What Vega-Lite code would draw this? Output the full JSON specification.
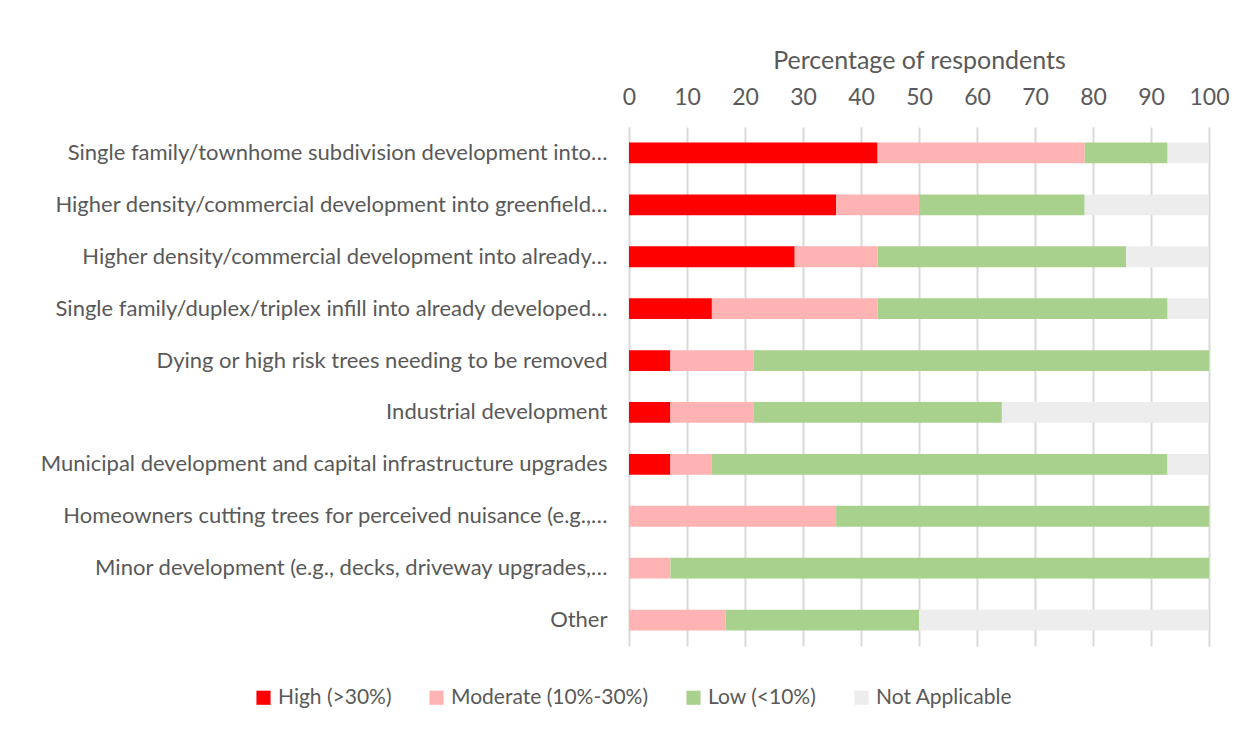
{
  "$schema": "https://vega.github.io/schema/vega-lite/v6.json",
  "autosize": {"type": "none"},
  "width": 580,
  "height": 519,
  "padding": {"left": 629, "top": 127, "right": 43, "bottom": 83},
  "background": "white",
  "config": {
    "view": {"stroke": null},
    "font": "Lato",
    "axis": {"labelColor": "#595959", "titleColor": "#595959", "labelFont": "Lato", "titleFont": "Lato"},
    "legend": {"labelColor": "#595959", "labelFont": "Lato"}
  },
  "data": {
    "values": [
      {"category": "Single family/townhome subdivision development into…", "level": "High (>30%)", "value": 42.86},
      {"category": "Single family/townhome subdivision development into…", "level": "Moderate (10%-30%)", "value": 35.71},
      {"category": "Single family/townhome subdivision development into…", "level": "Low (<10%)", "value": 14.29},
      {"category": "Single family/townhome subdivision development into…", "level": "Not Applicable", "value": 7.14},
      {"category": "Higher density/commercial development into greenfield…", "level": "High (>30%)", "value": 35.71},
      {"category": "Higher density/commercial development into greenfield…", "level": "Moderate (10%-30%)", "value": 14.29},
      {"category": "Higher density/commercial development into greenfield…", "level": "Low (<10%)", "value": 28.57},
      {"category": "Higher density/commercial development into greenfield…", "level": "Not Applicable", "value": 21.43},
      {"category": "Higher density/commercial development into already…", "level": "High (>30%)", "value": 28.57},
      {"category": "Higher density/commercial development into already…", "level": "Moderate (10%-30%)", "value": 14.29},
      {"category": "Higher density/commercial development into already…", "level": "Low (<10%)", "value": 42.86},
      {"category": "Higher density/commercial development into already…", "level": "Not Applicable", "value": 14.29},
      {"category": "Single family/duplex/triplex infill into already developed…", "level": "High (>30%)", "value": 14.29},
      {"category": "Single family/duplex/triplex infill into already developed…", "level": "Moderate (10%-30%)", "value": 28.57},
      {"category": "Single family/duplex/triplex infill into already developed…", "level": "Low (<10%)", "value": 50.0},
      {"category": "Single family/duplex/triplex infill into already developed…", "level": "Not Applicable", "value": 7.14},
      {"category": "Dying or high risk trees needing to be removed", "level": "High (>30%)", "value": 7.14},
      {"category": "Dying or high risk trees needing to be removed", "level": "Moderate (10%-30%)", "value": 14.29},
      {"category": "Dying or high risk trees needing to be removed", "level": "Low (<10%)", "value": 78.57},
      {"category": "Dying or high risk trees needing to be removed", "level": "Not Applicable", "value": 0},
      {"category": "Industrial development", "level": "High (>30%)", "value": 7.14},
      {"category": "Industrial development", "level": "Moderate (10%-30%)", "value": 14.29},
      {"category": "Industrial development", "level": "Low (<10%)", "value": 42.86},
      {"category": "Industrial development", "level": "Not Applicable", "value": 35.71},
      {"category": "Municipal development and capital infrastructure upgrades", "level": "High (>30%)", "value": 7.14},
      {"category": "Municipal development and capital infrastructure upgrades", "level": "Moderate (10%-30%)", "value": 7.14},
      {"category": "Municipal development and capital infrastructure upgrades", "level": "Low (<10%)", "value": 78.57},
      {"category": "Municipal development and capital infrastructure upgrades", "level": "Not Applicable", "value": 7.14},
      {"category": "Homeowners cutting trees for perceived nuisance (e.g.,…", "level": "High (>30%)", "value": 0},
      {"category": "Homeowners cutting trees for perceived nuisance (e.g.,…", "level": "Moderate (10%-30%)", "value": 35.71},
      {"category": "Homeowners cutting trees for perceived nuisance (e.g.,…", "level": "Low (<10%)", "value": 64.29},
      {"category": "Homeowners cutting trees for perceived nuisance (e.g.,…", "level": "Not Applicable", "value": 0},
      {"category": "Minor development (e.g., decks, driveway upgrades,…", "level": "High (>30%)", "value": 0},
      {"category": "Minor development (e.g., decks, driveway upgrades,…", "level": "Moderate (10%-30%)", "value": 7.14},
      {"category": "Minor development (e.g., decks, driveway upgrades,…", "level": "Low (<10%)", "value": 92.86},
      {"category": "Minor development (e.g., decks, driveway upgrades,…", "level": "Not Applicable", "value": 0},
      {"category": "Other", "level": "High (>30%)", "value": 0},
      {"category": "Other", "level": "Moderate (10%-30%)", "value": 16.67},
      {"category": "Other", "level": "Low (<10%)", "value": 33.33},
      {"category": "Other", "level": "Not Applicable", "value": 50.0}
    ]
  },
  "transform": [
    {"calculate": "indexof(['High (>30%)', 'Moderate (10%-30%)', 'Low (<10%)', 'Not Applicable'], datum.level)", "as": "levelOrder"}
  ],
  "mark": {"type": "bar"},
  "encoding": {
    "y": {
      "field": "category",
      "type": "nominal",
      "sort": null,
      "scale": {"paddingInner": 0.6, "paddingOuter": 0.3},
      "axis": {"title": null, "ticks": false, "domain": false, "labelFontSize": 22, "labelPadding": 22, "labelLimit": 700}
    },
    "x": {
      "field": "value",
      "type": "quantitative",
      "stack": "zero",
      "scale": {"domain": [0, 100], "nice": false},
      "axis": {
        "orient": "top",
        "title": "Percentage of respondents",
        "titleFontSize": 25,
        "titleFontWeight": "normal",
        "titlePadding": 13,
        "values": [0, 10, 20, 30, 40, 50, 60, 70, 80, 90, 100],
        "labelFontSize": 23,
        "labelPadding": 18,
        "labelFlush": false,
        "labelOverlap": false,
        "ticks": false,
        "domain": false,
        "grid": true,
        "gridColor": "#D9D9D9",
        "gridWidth": 2
      }
    },
    "order": {"field": "levelOrder", "type": "quantitative", "sort": "ascending"},
    "color": {
      "field": "level",
      "type": "nominal",
      "sort": ["High (>30%)", "Moderate (10%-30%)", "Low (<10%)", "Not Applicable"],
      "scale": {
        "domain": ["High (>30%)", "Moderate (10%-30%)", "Low (<10%)", "Not Applicable"],
        "range": ["#FF0000", "#FFB3B3", "#A9D18E", "#EDEDED"]
      },
      "legend": {
        "title": null,
        "orient": "none",
        "direction": "horizontal",
        "legendX": -376,
        "legendY": 560,
        "symbolType": "square",
        "symbolSize": 200,
        "symbolStrokeWidth": 0,
        "labelFontSize": 21,
        "labelOffset": 4,
        "columnPadding": 34,
        "labelLimit": 400
      }
    }
  }
}
